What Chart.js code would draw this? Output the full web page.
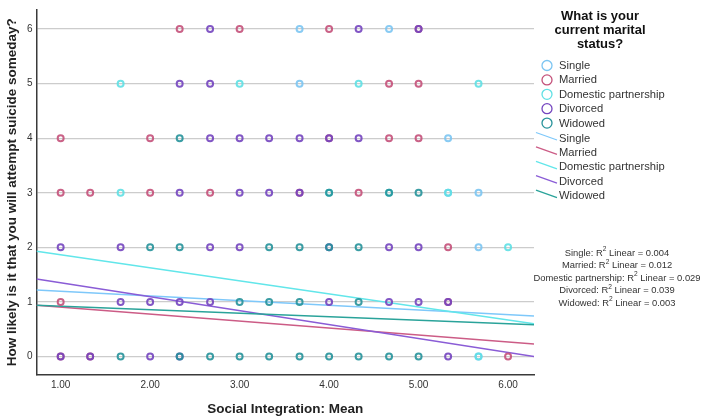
<!DOCTYPE html>
<html>
<head>
<meta charset="utf-8">
<script src="https://cdn.jsdelivr.net/npm/chart.js@4.4.1/dist/chart.umd.min.js"></script>
<style>
  html, body { margin: 0; padding: 0; background: #fff; }
  #wrap { width: 702px; height: 420px; }
</style>
</head>
<body>
<div id="wrap"><canvas id="chart" width="702" height="420"></canvas></div>
<script>
// marital status groups and their R² values
const groups = ['Single', 'Married', 'Domestic partnership', 'Divorced', 'Widowed'];
const r2Values = ['0.004', '0.012', '0.029', '0.039', '0.003'];

// scatter points (x = Social Integration mean, y = likelihood)
const singleX = [3.67, 4.67, 3.67, 5.33, 5.33, 5.67, 5.67, 5.67];
const singleY = [6, 6, 5, 4, 3, 3, 2, 0];

const marriedX = [2.33, 3.00, 4.00, 5.00, 4.67, 5.00, 1.00, 2.00, 4.00, 4.67, 5.00,
  1.00, 1.33, 2.00, 2.67, 3.67, 4.33, 5.33, 1.00, 5.33, 1.00, 1.33, 6.00];
const marriedY = [6, 6, 6, 6, 5, 5, 4, 4, 4, 4, 4,
  3, 3, 3, 3, 3, 3, 2, 1, 1, 0, 0, 0];

const domesticX = [1.67, 3.00, 4.33, 5.67, 1.67, 4.00, 4.67, 5.33, 6.00, 5.67];
const domesticY = [5, 5, 5, 5, 3, 3, 3, 3, 2, 0];

const divorcedX = [2.67, 4.33, 5.00, 2.33, 2.67, 2.67, 3.00, 3.33, 3.67, 4.00, 4.33,
  2.33, 3.00, 3.33, 3.67, 1.00, 1.67, 2.67, 3.00, 4.00, 4.67, 5.00,
  1.67, 2.00, 2.33, 2.67, 4.00, 4.67, 5.00, 5.33, 1.00, 1.33, 2.00, 2.33, 5.33];
const divorcedY = [6, 6, 6, 5, 5, 4, 4, 4, 4, 4, 4,
  3, 3, 3, 3, 2, 2, 2, 2, 2, 2, 2,
  1, 1, 1, 1, 1, 1, 1, 1, 0, 0, 0, 0, 0];

const widowedX = [2.33, 4.00, 4.67, 5.00, 2.00, 2.33, 3.33, 3.67, 4.00, 4.33,
  3.00, 3.33, 3.67, 4.33, 1.67, 2.33, 2.67, 3.00, 3.33, 3.67, 4.00, 4.33, 4.67, 5.00];
const widowedY = [4, 3, 3, 3, 2, 2, 2, 2, 2, 2,
  1, 1, 1, 1, 0, 0, 0, 0, 0, 0, 0, 0, 0, 0];

// linear fit lines: value at the left and right edge of the plot
const fitX = [0.73, 6.29];
const fitStart = [1.22, 0.94, 1.93, 1.42, 0.94];
const fitEnd = [0.74, 0.23, 0.60, 0.00, 0.58];

const xTicks = [1, 2, 3, 4, 5, 6];
const yTicks = [0, 1, 2, 3, 4, 5, 6];

const markerColors = ['#7cc5f2', '#c4517a', '#5fe0e4', '#7445bf', '#26929a'];
const lineColors = ['#7ec8fa', '#cc5c86', '#62e6ea', '#8a5cd6', '#2aa39a'];
const FONT = '"Liberation Sans", Arial, sans-serif';

const pointSets = [
  [singleX, singleY], [marriedX, marriedY], [domesticX, domesticY],
  [divorcedX, divorcedY], [widowedX, widowedY]
];

const toPoints = (xs, ys) => xs.map((x, i) => ({ x, y: ys[i] }));

const datasets = [];
pointSets.forEach(([xs, ys], i) => {
  datasets.push({
    type: 'scatter',
    label: groups[i],
    data: toPoints(xs, ys),
    pointStyle: 'circle',
    pointRadius: 3,
    pointBorderWidth: 2,
    borderColor: markerColors[i] + 'e6',
    backgroundColor: 'rgba(255,255,255,0)',
    order: 10 - i
  });
});
groups.forEach((g, i) => {
  datasets.push({
    type: 'line',
    label: g + ' fit',
    data: [{ x: fitX[0], y: fitStart[i] }, { x: fitX[1], y: fitEnd[i] }],
    borderColor: lineColors[i],
    borderWidth: 1.5,
    pointRadius: 0,
    fill: false,
    order: 20 - i
  });
});

const sideLegend = {
  id: 'sideLegend',
  afterDraw(chart) {
    const ctx = chart.ctx;
    ctx.save();
    ctx.textBaseline = 'middle';

    ctx.fillStyle = '#111';
    ctx.textAlign = 'center';
    ctx.font = 'bold 13px ' + FONT;
    ['What is your', 'current marital', 'status?'].forEach((t, i) => ctx.fillText(t, 600, 16 + i * 14.3));

    ctx.textAlign = 'left';
    ctx.font = '11.2px ' + FONT;
    groups.forEach((g, i) => {
      const y = 65.5 + i * 14.4;
      ctx.strokeStyle = markerColors[i];
      ctx.lineWidth = 1.3;
      ctx.beginPath();
      ctx.arc(547, y, 5, 0, Math.PI * 2);
      ctx.stroke();
      ctx.fillStyle = '#333';
      ctx.fillText(g, 559, y + 0.5);
    });
    groups.forEach((g, i) => {
      const y = 138 + i * 14.4;
      ctx.strokeStyle = lineColors[i];
      ctx.lineWidth = 1.3;
      ctx.beginPath();
      ctx.moveTo(536, y - 5.5);
      ctx.lineTo(557, y + 2);
      ctx.stroke();
      ctx.fillStyle = '#333';
      ctx.fillText(g, 559, y + 0.5);
    });

    // R² annotations, centred block
    const base = '9.4px ' + FONT;
    const sup = '6.6px ' + FONT;
    groups.forEach((g, i) => {
      const y = 253 + i * 12.5;
      const a = g + ': R';
      const b = '2';
      const c = ' Linear = ' + r2Values[i];
      ctx.font = base;
      const wa = ctx.measureText(a).width;
      const wc = ctx.measureText(c).width;
      ctx.font = sup;
      const wb = ctx.measureText(b).width;
      let x = 617 - (wa + wb + wc) / 2;
      ctx.fillStyle = '#333';
      ctx.font = base;
      ctx.fillText(a, x, y);
      x += wa;
      ctx.font = sup;
      ctx.fillText(b, x, y - 3.5);
      x += wb;
      ctx.font = base;
      ctx.fillText(c, x, y);
    });
    ctx.restore();
  }
};

new Chart(document.getElementById('chart'), {
  type: 'scatter',
  data: { datasets },
  options: {
    responsive: false,
    animation: false,
    layout: { padding: { top: 3, right: 168, left: 0, bottom: 0 } },
    plugins: { legend: { display: false }, tooltip: { enabled: false } },
    scales: {
      x: {
        type: 'linear',
        min: 0.73,
        max: 6.29,
        afterFit: (s) => { s.height = 45.5; },
        afterBuildTicks: (s) => { s.ticks = xTicks.map((v) => ({ value: v })); },
        grid: { display: false, drawTicks: false },
        border: { display: true, color: '#3a3a3a', width: 1.5 },
        ticks: {
          padding: 5,
          color: '#333',
          font: { family: FONT, size: 10 },
          callback: (v) => Number(v).toFixed(2)
        },
        title: {
          display: true,
          text: 'Social Integration: Mean',
          color: '#222',
          padding: { top: 3, bottom: 3 },
          font: { family: FONT, size: 13.5, weight: 'bold' }
        }
      },
      y: {
        type: 'linear',
        min: -0.33,
        max: 6.35,
        afterFit: (s) => { s.width = 36.5; },
        afterBuildTicks: (s) => { s.ticks = yTicks.map((v) => ({ value: v })); },
        grid: { color: '#cccccc', lineWidth: 1.2, drawTicks: false },
        border: { display: true, color: '#3a3a3a', width: 1.5 },
        ticks: {
          padding: 4,
          color: '#333',
          font: { family: FONT, size: 10 }
        },
        title: {
          display: true,
          text: 'How likely is it that you will attempt suicide someday?',
          color: '#222',
          padding: { top: 4, bottom: 4 },
          font: { family: FONT, size: 13.5, weight: 'bold' }
        }
      }
    }
  },
  plugins: [sideLegend]
});
</script>
</body>
</html>
